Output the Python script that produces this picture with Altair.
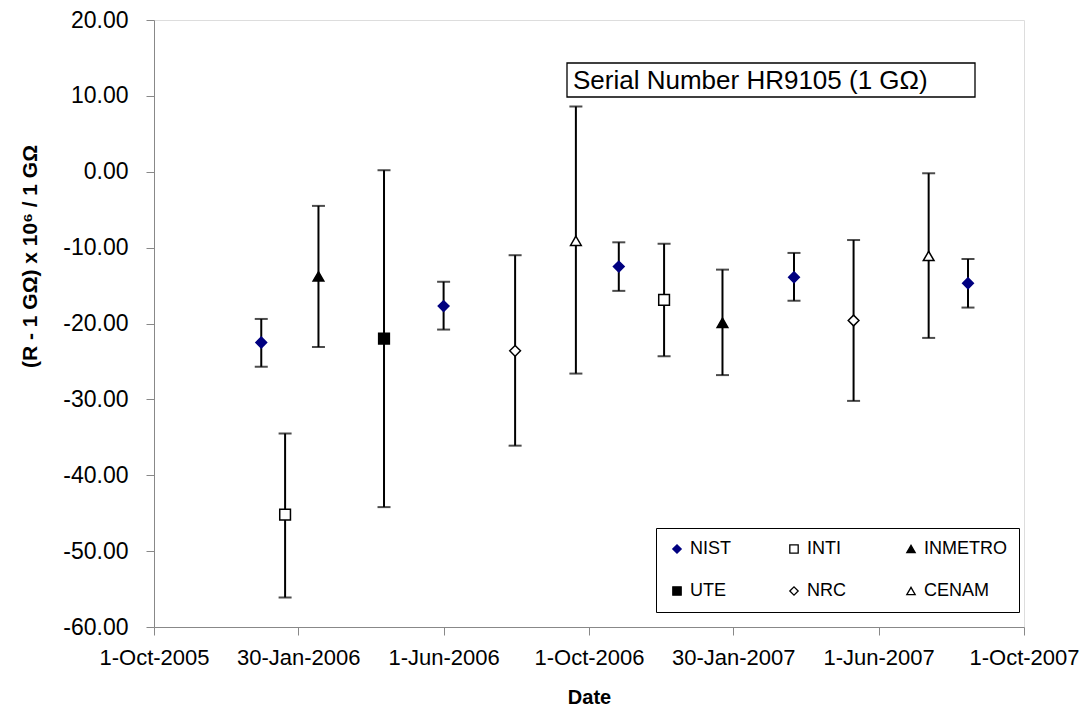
import altair as alt
import pandas as pd

# ---- data ----
labs = ["NIST", "INTI", "INMETRO", "UTE", "NIST", "NRC", "CENAM",
        "NIST", "INTI", "INMETRO", "NIST", "NRC", "CENAM", "NIST"]
dates = ["2005-12-30", "2006-01-19", "2006-02-16", "2006-04-12", "2006-06-01",
         "2006-07-31", "2006-09-20", "2006-10-26", "2006-12-03", "2007-01-21",
         "2007-03-22", "2007-05-11", "2007-07-13", "2007-08-15"]
vals = [-22.5, -45.2, -13.8, -22.0, -17.7, -23.6, -9.1,
        -12.5, -16.9, -19.9, -13.9, -19.6, -11.1, -14.7]
lo = [-25.7, -56.1, -23.1, -44.2, -20.8, -36.1, -26.6,
      -15.7, -24.3, -26.8, -17.0, -30.2, -21.9, -17.9]
hi = [-19.4, -34.5, -4.5, 0.2, -14.5, -11.0, 8.6,
      -9.3, -9.5, -12.9, -10.7, -9.0, -0.2, -11.5]

series = ["NIST", "INTI", "INMETRO", "UTE", "NRC", "CENAM"]
shapes = ["diamond", "square", "triangle-up", "square", "diamond", "triangle-up"]
fills = ["#000080", "white", "black", "black", "white", "white"]
strokes = ["#000080", "black", "black", "black", "black", "black"]

tick_dates = [(2005, 10, 1), (2006, 1, 30), (2006, 6, 1), (2006, 10, 1),
              (2007, 1, 30), (2007, 6, 1), (2007, 10, 1)]
box_text = "Serial Number HR9105 (1 G\u03a9)"
y_title = "(R - 1 G\u03a9) x 10\u2076 / 1 G\u03a9"

df = pd.DataFrame({"lab": labs, "date": dates, "val": vals, "lo": lo, "hi": hi})

FONT = "Liberation Sans"

tv = [alt.DateTime(year=y, month=m, date=d, utc=True) for y, m, d in tick_dates]

x = alt.X("date:T",
          scale=alt.Scale(type="utc", domain=[tv[0], tv[-1]]),
          axis=alt.Axis(values=tv, format="%-d-%b-%Y", title="Date",
                        grid=False, tickSize=8, labelPadding=12,
                        labelFontSize=22, titleFontSize=20, titlePadding=19,
                        labelFlush=False, labelOverlap=False))
yscale = alt.Scale(domain=[-60, 20], nice=False, zero=False)
y = alt.Y("val:Q", scale=yscale,
          axis=alt.Axis(values=list(range(-60, 21, 10)),
                        labelExpr="replace(format(datum.value, '.2f'), '\u2212', '-')",
                        title=y_title, grid=False, tickSize=8, labelPadding=18,
                        labelFontSize=23, titleFontSize=21,
                        titleX=-114, titleY=236, titleAngle=270))

base = alt.Chart(df)

rules = base.mark_rule(color="black", strokeWidth=2).encode(
    x=x, y=alt.Y("lo:Q", scale=yscale), y2="hi:Q")
cap_lo = base.mark_tick(color="black", orient="horizontal", size=13, thickness=2).encode(
    x="date:T", y=alt.Y("lo:Q", scale=yscale))
cap_hi = base.mark_tick(color="black", orient="horizontal", size=13, thickness=2).encode(
    x="date:T", y=alt.Y("hi:Q", scale=yscale))

leg = alt.Legend(title=None, orient="none", legendX=502, legendY=508,
                 direction="horizontal", columns=3, gridAlign="all",
                 fillColor="white", strokeColor="black", padding=12,
                 rowPadding=24, columnPadding=12, labelFontSize=18,
                 labelFont=FONT, symbolSize=70, symbolStrokeWidth=1.3,
                 labelOffset=4)

points = base.mark_point(size=115, opacity=1, strokeWidth=1.5).encode(
    x="date:T", y=y,
    shape=alt.Shape("lab:N", scale=alt.Scale(domain=series, range=shapes), legend=leg),
    fill=alt.Fill("lab:N", scale=alt.Scale(domain=series, range=fills), legend=leg),
    stroke=alt.Stroke("lab:N", scale=alt.Scale(domain=series, range=strokes), legend=leg),
)

tdf = pd.DataFrame({"t": [box_text]})
box = alt.Chart(tdf).mark_rect(fill="white", stroke="black", strokeWidth=1.3).encode(
    x=alt.value(413), x2=alt.value(821), y=alt.value(43), y2=alt.value(77))
txt = alt.Chart(tdf).mark_text(align="left", baseline="alphabetic", fontSize=26,
                               font=FONT, color="black").encode(
    x=alt.value(419), y=alt.value(69), text="t:N")

chart = alt.layer(rules, cap_lo, cap_hi, points, box, txt).properties(
    width=870, height=607,
    autosize=alt.AutoSizeParams(type="none"),
    padding={"left": 146, "top": 12, "right": 56, "bottom": 80},
).configure_view(stroke="#808080", strokeWidth=2).configure_axis(
    labelFont=FONT, titleFont=FONT, labelColor="black", titleColor="black",
    domainColor="#222222", domainWidth=2, tickColor="#444444", tickWidth=1.5,
    titleFontWeight="bold",
).configure(background="white")

chart.save("out.html", embed_options={"renderer": "svg", "actions": False})
